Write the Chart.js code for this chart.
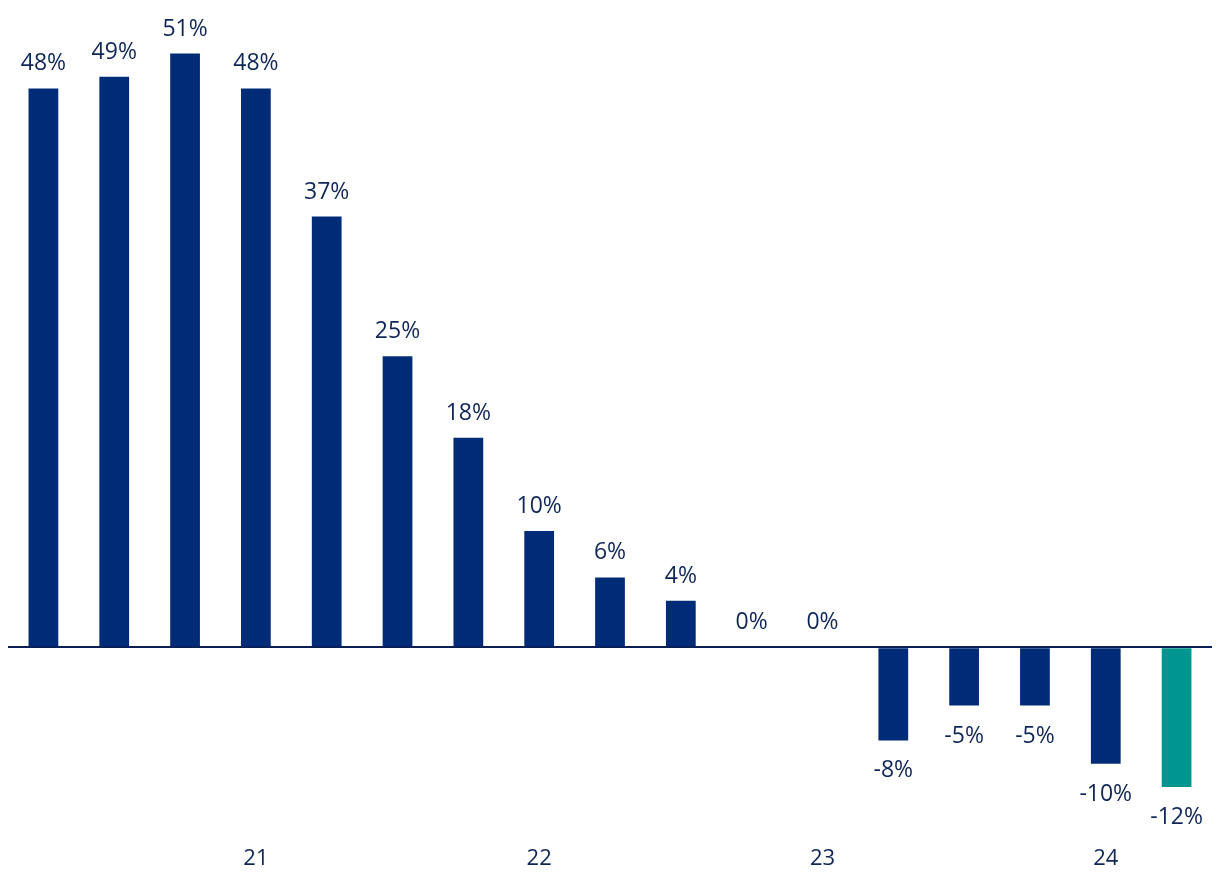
<!DOCTYPE html>
<html>
<head>
<meta charset="utf-8">
<script src="https://cdn.jsdelivr.net/npm/chart.js@4"></script>
<style>
  html, body { margin: 0; padding: 0; background: #fff; }
  #wrap { width: 1220px; height: 896px; }
</style>
</head>
<body>
<div id="wrap"><canvas id="myChart"></canvas></div>
<script>
// 데이터
const quarters = ['Q1 20', 'Q2 20', 'Q3 20', 'Q4 20', 'Q1 21', 'Q2 21', 'Q3 21', 'Q4 21',
                  'Q1 22', 'Q2 22', 'Q3 22', 'Q4 22', 'Q1 23', 'Q2 23', 'Q3 23', 'Q4 23', 'Q1 24'];
const tickLabels = ['', '', '', '21', '', '', '', '22', '', '', '', '23', '', '', '', '24', ''];
const values = [48, 49, 51, 48, 37, 25, 18, 10, 6, 4, 0, 0, -8, -5, -5, -10, -12];

const navy = '#002c77';
const teal = '#00968f';
const textColor = '#0f2657';

// 막대 위/아래에 값 표시
const valueLabels = {
    id: 'valueLabels',
    afterDatasetsDraw(chart) {
        const ctx = chart.ctx;
        const meta = chart.getDatasetMeta(0);
        ctx.save();
        ctx.font = '23px "Open Sans"';
        ctx.fillStyle = textColor;
        ctx.textAlign = 'center';
        ctx.textBaseline = 'alphabetic';
        meta.data.forEach((bar, i) => {
            const v = values[i];
            const y = v >= 0 ? bar.y - 18 : bar.y + 37;
            ctx.fillText(v + '%', bar.x, y);
        });
        ctx.restore();
    }
};

let ctx = document.getElementById('myChart');

let config = {
    type: 'bar',
    data: {
        labels: quarters,
        datasets: [{
            data: values,
            backgroundColor: values.map((v, i) => i === values.length - 1 ? teal : navy),
            barPercentage: 0.42,
            categoryPercentage: 1.0,
        }]
    },
    options: {
        responsive: true,
        maintainAspectRatio: false,
        animation: false,
        layout: { padding: { left: 8, right: 8, top: 7, bottom: 20 } },
        plugins: {
            legend: { display: false },
            tooltip: { enabled: false }
        },
        scales: {
            x: {
                grid: { display: false },
                border: { display: false },
                ticks: {
                    color: textColor,
                    font: { family: 'Open Sans', size: 22 },
                    padding: 4,
                    autoSkip: false,
                    maxRotation: 0,
                    callback: (val, i) => tickLabels[i]
                }
            },
            y: {
                min: -16,
                max: 55,
                ticks: { display: false },
                border: { display: false },
                grid: {
                    drawTicks: false,
                    color: c => c.tick.value === 0 ? '#0a1f55' : 'transparent',
                    lineWidth: 2
                }
            }
        }
    },
    plugins: [valueLabels]
};

let myChart = new Chart(ctx, config);
</script>
</body>
</html>
